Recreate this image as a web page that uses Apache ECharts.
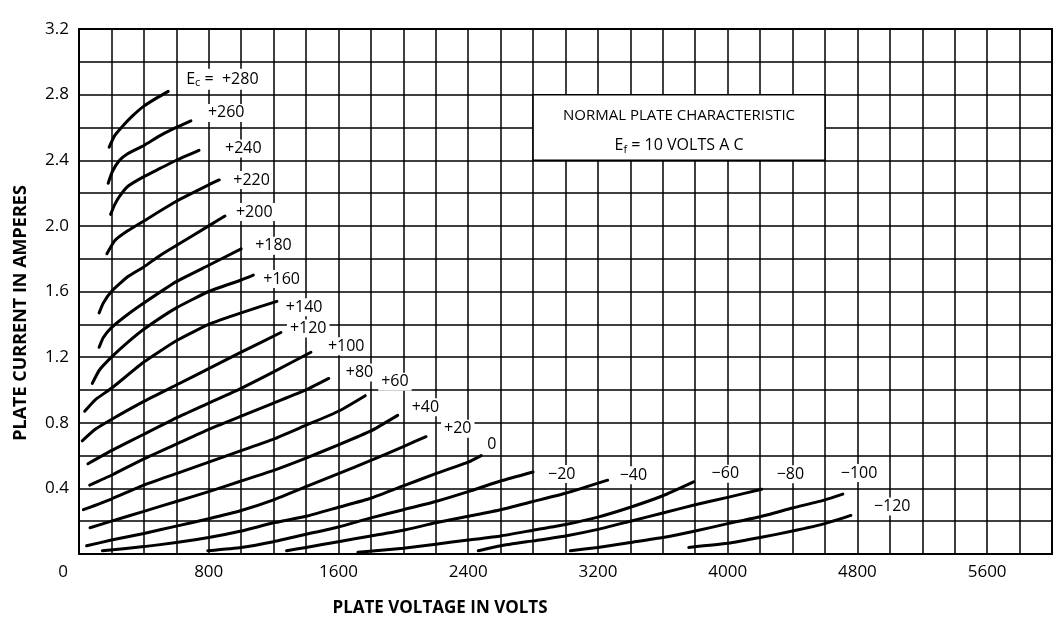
<!DOCTYPE html>
<html><head><meta charset="utf-8">
<script src="https://cdn.jsdelivr.net/npm/echarts@6/dist/echarts.min.js"></script>
<style>html,body{margin:0;padding:0;background:#fff}#c{width:1056px;height:630px}</style>
</head><body><div id="c"></div>
<script>
// ---- data (plate voltage V, plate current A) ----
const curveNames = ['+280','+260','+240','+220','+200','+180','+160','+140','+120','+100','+80','+60','+40','+20','0','\u221220','\u221240','\u221260','\u221280','\u2212100','\u2212120'];
const ec_p280 = [[186,2.48],[220,2.55],[262,2.60],[330,2.67],[400,2.73],[480,2.78],[550,2.82]];
const ec_p260 = [[180,2.26],[205,2.33],[250,2.40],[300,2.44],[400,2.49],[500,2.55],[600,2.60],[690,2.64]];
const ec_p240 = [[195,2.07],[220,2.13],[250,2.18],[300,2.24],[400,2.30],[500,2.35],[600,2.40],[740,2.46]];
const ec_p220 = [[172,1.83],[220,1.91],[300,1.97],[400,2.03],[600,2.15],[800,2.25],[865,2.28]];
const ec_p200 = [[124,1.47],[150,1.53],[200,1.60],[300,1.69],[400,1.75],[500,1.82],[600,1.88],[800,2.00],[900,2.06]];
const ec_p180 = [[124,1.26],[150,1.32],[200,1.38],[300,1.46],[400,1.53],[600,1.66],[800,1.76],[1000,1.86]];
const ec_p160 = [[82,1.04],[125,1.12],[200,1.20],[300,1.29],[400,1.37],[600,1.50],[800,1.60],[1000,1.67],[1075,1.70]];
const ec_p140 = [[35,0.87],[100,0.94],[200,1.01],[400,1.17],[600,1.30],[800,1.40],[1000,1.47],[1220,1.54]];
const ec_p120 = [[20,0.69],[100,0.76],[200,0.82],[400,0.93],[600,1.03],[800,1.13],[1000,1.23],[1245,1.35]];
const ec_p100 = [[55,0.55],[200,0.63],[400,0.73],[600,0.83],[800,0.92],[1000,1.01],[1200,1.11],[1430,1.23]];
const ec_p80  = [[66,0.42],[200,0.48],[400,0.58],[600,0.67],[800,0.76],[1000,0.84],[1200,0.92],[1400,1.00],[1540,1.07]];
const ec_p60  = [[27,0.27],[200,0.335],[400,0.42],[600,0.49],[800,0.56],[1000,0.63],[1200,0.70],[1400,0.785],[1600,0.87],[1765,0.965]];
const ec_p40  = [[68,0.16],[200,0.20],[400,0.26],[600,0.32],[800,0.38],[1000,0.445],[1200,0.51],[1400,0.585],[1600,0.665],[1800,0.75],[1965,0.845]];
const ec_p20  = [[47,0.05],[200,0.085],[400,0.125],[600,0.17],[800,0.215],[1000,0.265],[1200,0.33],[1400,0.41],[1600,0.49],[1800,0.57],[2000,0.655],[2140,0.715]];
const ec_0    = [[144,0.02],[400,0.045],[600,0.07],[800,0.10],[1000,0.14],[1200,0.19],[1400,0.23],[1600,0.285],[1800,0.34],[2000,0.415],[2200,0.49],[2400,0.56],[2480,0.60]];
const ec_m20  = [[794,0.02],[1000,0.04],[1200,0.075],[1400,0.12],[1600,0.165],[1800,0.22],[2000,0.27],[2200,0.32],[2400,0.38],[2600,0.445],[2800,0.50]];
const ec_m40  = [[1280,0.02],[1400,0.04],[1600,0.075],[1800,0.11],[2000,0.145],[2200,0.19],[2400,0.23],[2600,0.27],[2800,0.32],[3000,0.37],[3260,0.45]];
const ec_m60  = [[1720,0.01],[2000,0.035],[2200,0.06],[2400,0.085],[2600,0.11],[2800,0.145],[3000,0.18],[3200,0.225],[3400,0.285],[3600,0.355],[3790,0.44]];
const ec_m80  = [[2462,0.02],[2600,0.05],[2800,0.08],[3000,0.11],[3200,0.15],[3400,0.20],[3600,0.25],[3800,0.30],[4000,0.345],[4210,0.395]];
const ec_m100 = [[3030,0.02],[3200,0.04],[3400,0.07],[3600,0.10],[3800,0.14],[4000,0.185],[4200,0.227],[4400,0.28],[4600,0.33],[4710,0.365]];
const ec_m120 = [[3760,0.04],[4000,0.065],[4200,0.10],[4400,0.14],[4600,0.185],[4760,0.235]];
const xTickLabels = [0,800,1600,2400,3200,4000,4800,5600];
const yTickLabels = ['0.4','0.8','1.2','1.6','2.0','2.4','2.8','3.2'];
const xTitle = 'PLATE VOLTAGE IN VOLTS';
const yTitle = 'PLATE CURRENT IN AMPERES';
const noteLine1 = 'NORMAL PLATE CHARACTERISTIC';
const noteLine2 = ' = 10 VOLTS A C';

// ---- layout / style ----
const curves = [ec_p280,ec_p260,ec_p240,ec_p220,ec_p200,ec_p180,ec_p160,ec_p140,ec_p120,ec_p100,ec_p80,ec_p60,ec_p40,ec_p20,ec_0,ec_m20,ec_m40,ec_m60,ec_m80,ec_m100,ec_m120];
const labelOffsets = [[10,-12],[9,-8],[18,-2],[6,0],[3,-4],[6,-3],[2,4],[1,6],[1,-4],[9,-6],[9,-6],[8,-14],[6,-8],[10,-8],[-2,-11],[7,2],[4,-5],[10,-8],[7,-15],[-10,-21],[15,-9]];
const FONT = '"Open Sans", Lato, sans-serif';

const series = curves.map((d, i) => ({
  type: 'line', name: curveNames[i], data: d, smooth: 0.15, symbol: 'none', silent: true,
  lineStyle: { color: '#000', width: 3, cap: 'round', join: 'round' },
  endLabel: {
    show: true,
    formatter: i === 0 ? '{e|E}{s|c}{e| =  ' + curveNames[0] + '}' : curveNames[i],
    offset: labelOffsets[i], distance: 5,
    color: '#000', fontFamily: FONT, fontSize: 16,
    backgroundColor: '#fff', padding: [1, 3],
    rich: {
      e: { fontFamily: FONT, fontSize: 16, color: '#000' },
      s: { fontFamily: FONT, fontSize: 11, color: '#000', padding: [8, 0, 0, 0] }
    }
  }
}));
series[0].markArea = {
  silent: true,
  itemStyle: { color: '#fff', borderColor: '#000', borderWidth: 1.5 },
  label: {
    show: true, position: 'inside', color: '#000', offset: [0, 3],
    formatter: '{a|' + noteLine1 + '}\n{b|E}{s|f}{b|' + noteLine2 + '}',
    rich: {
      a: { fontFamily: FONT, fontSize: 15, lineHeight: 30, color: '#000' },
      b: { fontFamily: FONT, fontSize: 16, lineHeight: 30, color: '#000' },
      s: { fontFamily: FONT, fontSize: 11, lineHeight: 30, color: '#000', padding: [8, 0, 0, 0] }
    }
  },
  data: [[{ coord: [2800, 2.8] }, { coord: [4600, 2.4] }]]
};

const chart = echarts.init(document.getElementById('c'));
chart.setOption({
  animation: false,
  backgroundColor: '#fff',
  grid: { left: 79, right: 4, top: 29, bottom: 76, show: true, borderColor: '#000', borderWidth: 2 },
  xAxis: {
    type: 'value', min: 0, max: 6000, interval: 200,
    axisLine: { show: true, lineStyle: { color: '#000', width: 2 } },
    axisTick: { show: false },
    splitLine: { show: true, lineStyle: { color: '#000', width: 1.5 } },
    axisLabel: {
      color: '#000', fontSize: 17, fontFamily: FONT, margin: 10,
      formatter: v => v === 0 ? '{z|0}' : (xTickLabels.includes(v) ? String(v) : ''),
      rich: { z: { fontSize: 17, fontFamily: FONT, color: '#000', padding: [0, 32, 0, 0] } }
    }
  },
  yAxis: {
    type: 'value', min: 0, max: 3.2, interval: 0.2,
    axisLine: { show: true, lineStyle: { color: '#000', width: 2 } },
    axisTick: { show: false },
    splitLine: { show: true, lineStyle: { color: '#000', width: 1.5 } },
    axisLabel: {
      color: '#000', fontSize: 17, fontFamily: FONT, margin: 10,
      formatter: v => { const t = (Math.round(v * 10) / 10).toFixed(1); return yTickLabels.includes(t) ? t : ''; }
    }
  },
  graphic: [
    { type: 'text', x: 440, y: 608,
      style: { text: xTitle, fill: '#000', font: 'bold 17px ' + FONT, textAlign: 'center', textVerticalAlign: 'middle' } },
    { type: 'text', x: 21, y: 313, rotation: Math.PI / 2,
      style: { text: yTitle, fill: '#000', font: 'bold 18px ' + FONT, textAlign: 'center', textVerticalAlign: 'middle' } }
  ],
  series: series
});
</script></body></html>
